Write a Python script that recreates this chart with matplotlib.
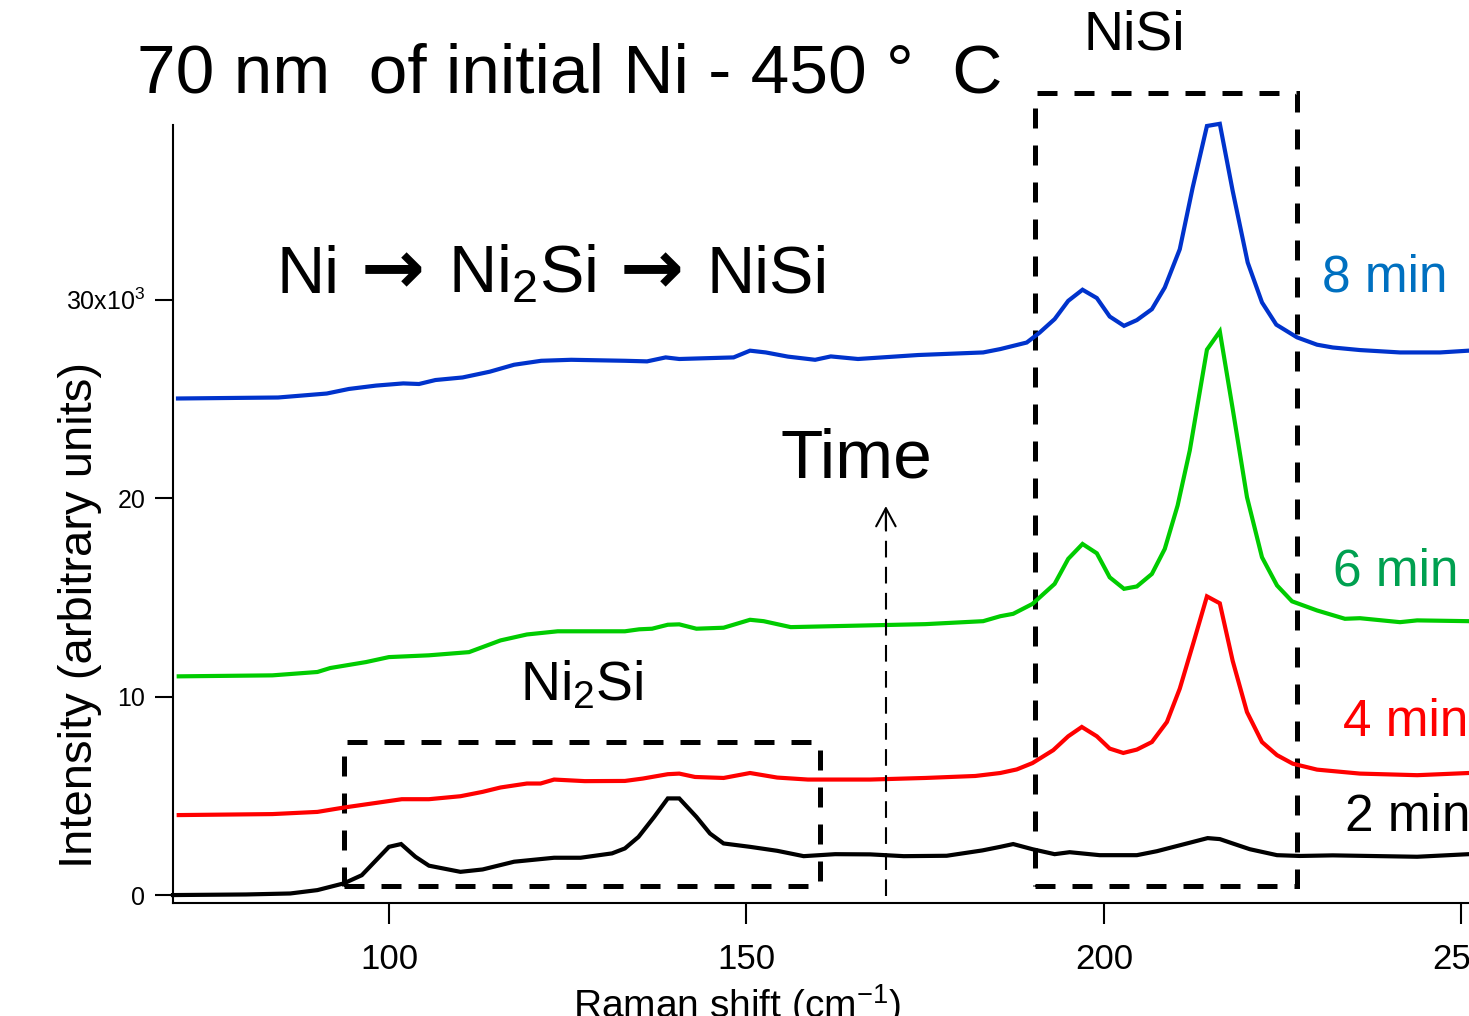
import matplotlib
matplotlib.use("Agg")
import matplotlib.pyplot as plt
from matplotlib import font_manager
from matplotlib.patches import Rectangle

# Raman spectra (intensity in units of 10^3)
x_2min = [69.8, 80, 86.2, 90, 93.7, 96.2, 100, 101.7, 103.7, 105.6, 110, 113.1, 117.5, 123.1,
          126.8, 131.2, 133, 134.9, 137.1, 139, 140.6, 143, 144.9, 146.8, 150.5, 154.3, 158,
          162.4, 167.3, 172, 178, 183, 185.5, 187.3, 190, 193.1, 195.2, 199.4, 204.6, 207.4,
          211.6, 214.5, 216.2, 218, 220.4, 224.2, 227.4, 232, 243.8, 251]
y_2min = [0.0, 0.03, 0.08, 0.25, 0.59, 1.0, 2.43, 2.57, 1.93, 1.48, 1.17, 1.29, 1.68, 1.88,
          1.88, 2.1, 2.35, 2.93, 3.94, 4.87, 4.87, 3.94, 3.1, 2.6, 2.43, 2.23, 1.96,
          2.06, 2.05, 1.96, 1.98, 2.25, 2.43, 2.57, 2.31, 2.06, 2.16, 2.01, 2.01, 2.21,
          2.6, 2.87, 2.82, 2.6, 2.31, 2.01, 1.97, 2.0, 1.93, 2.06]

x_4min = [70.6, 83.7, 90, 93.7, 101.8, 105.6, 110, 113.1, 115.6, 119.3, 121.2, 123.1, 127.4,
          133, 135.5, 139, 140.6, 142.8, 146.8, 150.5, 154.3, 158.6, 167.3, 175, 182, 185.5,
          187.8, 190, 192.9, 195, 196.9, 199, 200.8, 202.7, 204.6, 206.7, 208.8, 210.6, 212.5,
          214.4, 216.2, 218, 220, 222.1, 224.2, 226.4, 229.8, 235.8, 243.8, 251]
y_4min = [4.03, 4.08, 4.19, 4.41, 4.83, 4.83, 4.98, 5.2, 5.42, 5.62, 5.62, 5.82, 5.74,
          5.75, 5.87, 6.09, 6.12, 5.95, 5.9, 6.15, 5.92, 5.82, 5.82, 5.9, 6.0, 6.15,
          6.33, 6.65, 7.3, 8.0, 8.47, 8.0, 7.38, 7.16, 7.33, 7.71, 8.72, 10.4, 12.7,
          15.05, 14.7, 11.8, 9.22, 7.71, 7.05, 6.62, 6.32, 6.12, 6.04, 6.15]

x_6min = [70.6, 83.7, 90, 91.8, 96.8, 100, 105.6, 111.2, 115.6, 119.3, 123.6, 128.7, 133, 135,
          136.8, 139, 140.6, 143, 146.8, 150.5, 152.4, 156.2, 167.3, 175, 183.1, 185.5, 187.3,
          190, 193.1, 195, 197, 199, 200.8, 202.8, 204.6, 206.7, 208.5, 210.3, 212, 214.4,
          216.2, 218, 220, 222.1, 224.2, 226.3, 229.8, 233.7, 235.8, 241.4, 243.8, 251]
y_6min = [11.02, 11.07, 11.24, 11.44, 11.74, 11.99, 12.08, 12.24, 12.83, 13.13, 13.29, 13.29,
          13.29, 13.39, 13.42, 13.62, 13.64, 13.42, 13.47, 13.87, 13.8, 13.5, 13.59, 13.65,
          13.8, 14.05, 14.17, 14.67, 15.68, 16.94, 17.69, 17.22, 16.01, 15.43, 15.55, 16.18,
          17.44, 19.63, 22.4, 27.48, 28.4, 24.5, 20.05, 17.02, 15.6, 14.8, 14.34, 13.92,
          13.95, 13.75, 13.84, 13.8]

x_8min = [70.5, 84.5, 91.3, 94.4, 98.2, 102, 104.2, 106.5, 110.3, 114.1, 117.5, 121.3, 125.5,
          133, 136.1, 138.7, 140.6, 148.2, 150.5, 152.7, 155.8, 159.6, 161.8, 165.6, 174,
          183.1, 185.5, 189.2, 191, 193.1, 195, 197, 199, 200.8, 202.8, 204.6, 206.7, 208.5,
          210.6, 212.4, 214.4, 216.2, 218, 220.1, 222.1, 224.1, 227, 229.8, 232, 235.8,
          241.4, 247, 251]
y_8min = [25.02, 25.07, 25.27, 25.5, 25.67, 25.78, 25.75, 25.95, 26.08, 26.37, 26.72, 26.92,
          26.97, 26.92, 26.89, 27.09, 27.01, 27.09, 27.43, 27.34, 27.13, 26.97, 27.14, 27.01,
          27.21, 27.34, 27.51, 27.84, 28.34, 29.02, 29.94, 30.5, 30.08, 29.15, 28.68, 28.97,
          29.52, 30.61, 32.54, 35.64, 38.75, 38.86, 35.48, 31.87, 29.86, 28.74, 28.1, 27.73,
          27.59, 27.46, 27.34, 27.34, 27.43]

series_labels = ["2 min", "4 min", "6 min", "8 min"]
line_colors = ["black", "#FF0000", "#00CC00", "#0033CC"]
label_colors = ["black", "#FF0000", "#00A050", "#0070C0"]

x_ticks = [100, 150, 200, 250]
y_ticks = [0, 10, 20, 30]
y_ticklabels = ["0", "10", "20", "30x10$^3$"]

# regions marked on the chart
ni2si_box = (93.7, 160.3, 0.45, 7.7)
nisi_box = (190.35, 227.0, 0.45, 40.4)
time_arrow_x = 169.5
time_arrow_top = 19.6

W, H = 1469, 1016


def fpos(px, py):
    # pixel position in the picture -> figure fraction
    return px / W, 1 - py / H


names = {f.name for f in font_manager.fontManager.ttflist}
narrow = "Liberation Sans Narrow" if "Liberation Sans Narrow" in names else "Liberation Sans"
has_narrow = narrow == "Liberation Sans Narrow"

plt.rcParams["font.family"] = ["Liberation Sans", "DejaVu Sans"]
plt.rcParams["mathtext.fontset"] = "custom"
plt.rcParams["mathtext.rm"] = narrow
plt.rcParams["mathtext.it"] = narrow

fig = plt.figure(figsize=(W / 100, H / 100), dpi=100)
ax = fig.add_axes([173 / W, 1 - 903 / H, 1 - 173 / W, (903 - 125) / H])

xs_all = [x_2min, x_4min, x_6min, x_8min]
ys_all = [y_2min, y_4min, y_6min, y_8min]
for xs, ys, c in zip(xs_all, ys_all, line_colors):
    ax.plot(xs, ys, color=c, lw=3, clip_on=False, solid_joinstyle="miter")

ax.set_xlim(69.8, 251.05)
ax.set_ylim(-0.4, 38.8)

for s in ["top", "right"]:
    ax.spines[s].set_visible(False)
for s in ["left", "bottom"]:
    ax.spines[s].set_linewidth(1.5)

tick_x_size = 29 if has_narrow else 25
tick_y_size = 20 if has_narrow else 18
ax.set_xticks(x_ticks)
ax.set_xticklabels([str(v) for v in x_ticks], family=narrow, size=tick_x_size)
ax.set_yticks(y_ticks)
ax.set_yticklabels(y_ticklabels, family=narrow, size=tick_y_size)
ax.tick_params(axis="x", direction="out", length=15, width=1.5, pad=14)
ax.tick_params(axis="y", direction="out", length=13, width=1.5, pad=7)

# dashed boxes around the phase peaks
for x0, x1, y0, y1 in [ni2si_box, nisi_box]:
    ax.add_patch(Rectangle((x0, y0), x1 - x0, y1 - y0, fill=False, ec="black", lw=3.6,
                           ls=(0, (4, 3.4)), clip_on=False))

# time arrow
ax.plot([time_arrow_x, time_arrow_x], [-0.05, time_arrow_top - 0.3], color="black", lw=1.5,
        ls=(0, (8, 4.5)), clip_on=False)
ax.annotate("", xy=(time_arrow_x, time_arrow_top), xytext=(time_arrow_x, time_arrow_top - 1.2),
            arrowprops=dict(arrowstyle="->,head_length=0.65,head_width=0.35", lw=1.5,
                            color="black", mutation_scale=20, shrinkA=0, shrinkB=0))

# axis titles
fig.text(*fpos(80, 615), "Intensity (arbitrary units)", rotation=90, ha="center", va="center",
         size=34)
fig.text(*fpos(573, 1018), "Raman shift (cm$^{-1}$)", ha="left", va="baseline",
         family=narrow, size=33 if has_narrow else 28)

# annotations
fig.text(*fpos(137, 92), "70 nm  of initial Ni - 450 °  C", size=50, va="baseline")
fig.text(*fpos(1084, 50), "NiSi", size=40, va="baseline")
fig.text(*fpos(780, 478), "Time", size=50, va="baseline")
fig.text(*fpos(520, 700), "Ni$_2$Si", size=40, va="baseline")

# reaction path, arrows drawn with DejaVu's larger arrow glyph
fig.text(*fpos(276, 293), "Ni", size=48, va="baseline")
fig.text(*fpos(448, 293), "Ni$_2$Si", size=48, va="baseline")
fig.text(*fpos(707, 293), "NiSi", size=48, va="baseline")
for arrow_px in [361, 620]:
    fig.text(*fpos(arrow_px, 293), "→", size=55, va="baseline", family="DejaVu Sans",
             weight="bold")

label_pos = [(1345, 831), (1343, 736), (1333, 585), (1322, 292)]
for lab, c, (px, py) in zip(series_labels, label_colors, label_pos):
    fig.text(*fpos(px, py), lab, color=c, size=37, va="baseline")

fig.savefig("out.png", dpi=100)
